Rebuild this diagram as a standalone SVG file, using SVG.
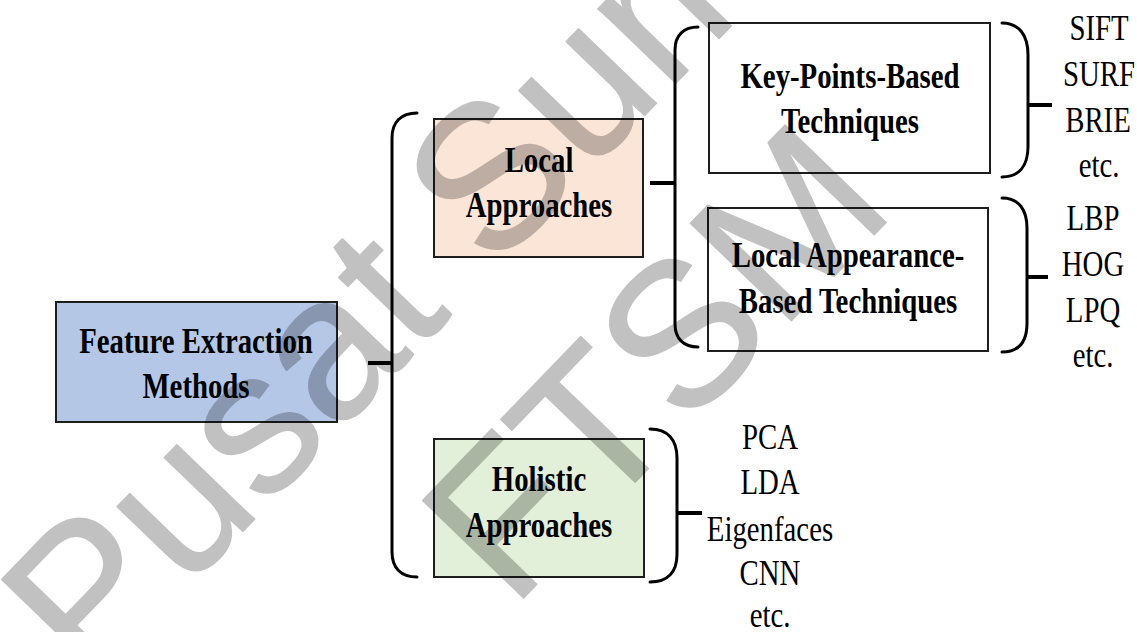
<svg xmlns="http://www.w3.org/2000/svg" width="1137" height="632" viewBox="0 0 1137 632">
  <style>
    .box { stroke: #1e1e1e; stroke-width: 2; }
    .bold { font-family: "Liberation Serif", "Times New Roman", serif; font-weight: bold; font-size: 36px; fill: #000; text-anchor: middle; }
    .item { font-family: "Liberation Serif", "Times New Roman", serif; font-size: 36px; fill: #000; text-anchor: middle; }
    .brace { fill: none; stroke: #000; stroke-width: 3; stroke-linecap: round; }
    .tick { stroke: #000; stroke-width: 4; }
    .wm { font-family: "Liberation Sans", Arial, sans-serif; font-size: 204px; fill: #000; stroke: #000; stroke-width: 1.5; stroke-linejoin: round; }
  </style>
  <rect width="1137" height="632" fill="#fff"/>

  <!-- root -->
  <g id="feature-extraction">
    <rect class="box" x="56" y="302" width="281" height="120" fill="#b4c7e7"/>
    <text class="bold" transform="translate(196,353) scale(0.8,1)">Feature Extraction</text>
    <text class="bold" transform="translate(196,398) scale(0.8,1)">Methods</text>
  </g>

  <g id="local-approaches">
    <rect class="box" x="434" y="119" width="209" height="138" fill="#fbe5d6"/>
    <text class="bold" transform="translate(539,172) scale(0.8,1)">Local</text>
    <text class="bold" transform="translate(539,217) scale(0.8,1)">Approaches</text>
  </g>

  <g id="holistic-approaches">
    <rect class="box" x="434" y="439" width="210" height="138" fill="#e2efd9"/>
    <text class="bold" transform="translate(539,491) scale(0.8,1)">Holistic</text>
    <text class="bold" transform="translate(539,537) scale(0.8,1)">Approaches</text>
  </g>

  <g id="key-points">
    <rect class="box" x="709" y="23" width="281" height="150" fill="#fff"/>
    <text class="bold" transform="translate(850,88) scale(0.8,1)">Key-Points-Based</text>
    <text class="bold" transform="translate(850,133) scale(0.8,1)">Techniques</text>
  </g>

  <g id="local-appearance">
    <rect class="box" x="708" y="208" width="280" height="143" fill="#fff"/>
    <text class="bold" transform="translate(848,267) scale(0.8,1)">Local Appearance-</text>
    <text class="bold" transform="translate(848,313) scale(0.8,1)">Based Techniques</text>
  </g>

  <!-- method lists -->
  <g id="key-points-list">
    <text class="item" transform="translate(1099,40) scale(0.8,1)">SIFT</text>
    <text class="item" transform="translate(1099,86) scale(0.8,1)">SURF</text>
    <text class="item" transform="translate(1098,132) scale(0.8,1)">BRIE</text>
    <text class="item" transform="translate(1099,177) scale(0.8,1)">etc.</text>
  </g>
  <g id="local-appearance-list">
    <text class="item" transform="translate(1093,230) scale(0.8,1)">LBP</text>
    <text class="item" transform="translate(1093,276) scale(0.8,1)">HOG</text>
    <text class="item" transform="translate(1093,322) scale(0.8,1)">LPQ</text>
    <text class="item" transform="translate(1093,367) scale(0.8,1)">etc.</text>
  </g>
  <g id="holistic-list">
    <text class="item" transform="translate(770,449) scale(0.8,1)">PCA</text>
    <text class="item" transform="translate(770,494) scale(0.8,1)">LDA</text>
    <text class="item" transform="translate(770,541) scale(0.8,1)">Eigenfaces</text>
    <text class="item" transform="translate(770,585) scale(0.8,1)">CNN</text>
    <text class="item" transform="translate(770,627) scale(0.8,1)">etc.</text>
  </g>

  <!-- braces and ticks -->
  <g id="connectors">
    <line class="tick" x1="368" y1="363" x2="392" y2="363"/>
    <path class="brace" d="M417,113 C401,113 392,122 392,138 L392,552 C392,568 401,577 417,577"/>
    <line class="tick" x1="650" y1="183" x2="675" y2="183"/>
    <path class="brace" d="M698,27 C684,27 675,35 675,50 L675,324 C675,339 684,347 698,347"/>
    <path class="brace" d="M1002,23 C1019,23 1028,35 1028,55 L1028,146 C1028,166 1019,177 1002,177"/>
    <line class="tick" x1="1028" y1="105" x2="1052" y2="105"/>
    <path class="brace" d="M1002,198 C1019,198 1027,210 1027,228 L1027,323 C1027,342 1019,352 1002,352"/>
    <line class="tick" x1="1026" y1="277" x2="1048" y2="277"/>
    <path class="brace" d="M650,429 C668,429 677,440 677,458 L677,554 C677,572 668,582 650,582"/>
    <line class="tick" x1="677" y1="513" x2="702" y2="513"/>
  </g>

  <!-- library stamp across the page -->
  <g id="stamp" opacity="0.24">
    <text class="wm" transform="translate(91,689) rotate(-46)">Pusat Sumber</text>
    <text class="wm" transform="translate(512,610) rotate(-46)">FTSM</text>
  </g>
</svg>
